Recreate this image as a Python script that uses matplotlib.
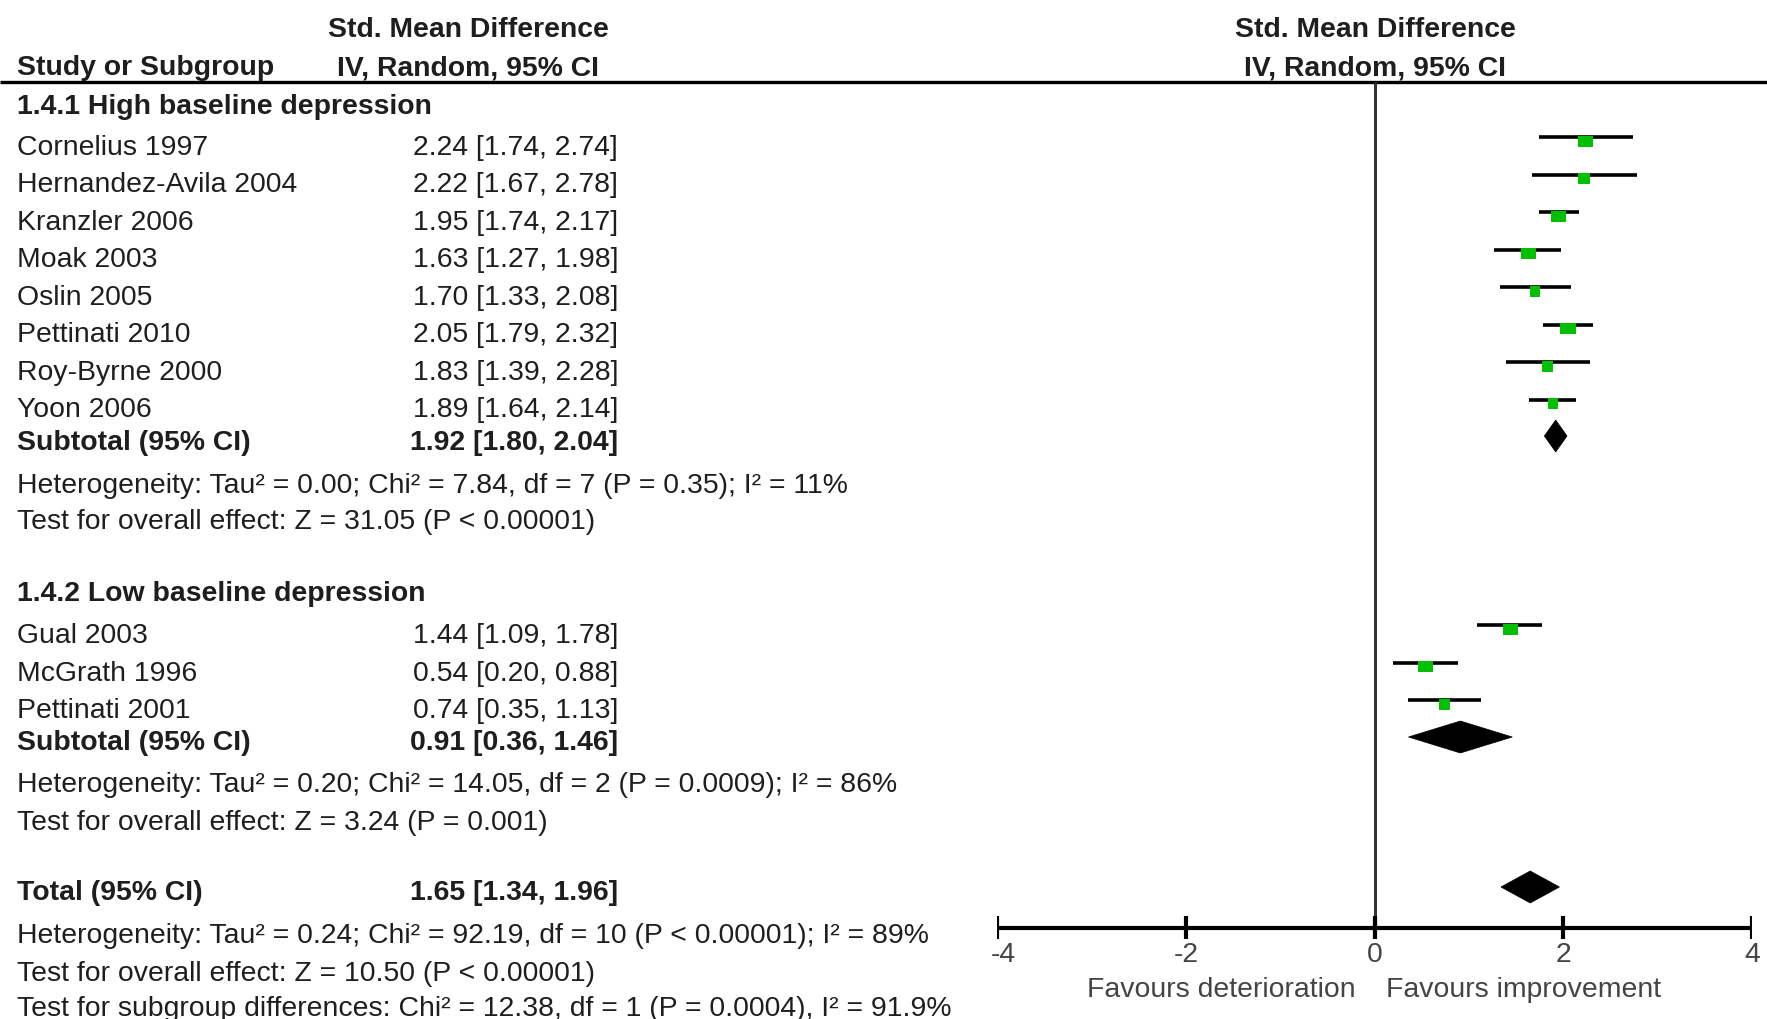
import matplotlib
matplotlib.use("Agg")
import matplotlib.pyplot as plt
from matplotlib.patches import Rectangle, Polygon

plt.rcParams["font.family"] = ["Liberation Sans", "DejaVu Sans"]

# data
g1_title = "1.4.1 High baseline depression"
g1_studies = ["Cornelius 1997", "Hernandez-Avila 2004", "Kranzler 2006", "Moak 2003",
              "Oslin 2005", "Pettinati 2010", "Roy-Byrne 2000", "Yoon 2006"]
g1_est = [2.24, 2.22, 1.95, 1.63, 1.70, 2.05, 1.83, 1.89]
g1_lo = [1.74, 1.67, 1.74, 1.27, 1.33, 1.79, 1.39, 1.64]
g1_hi = [2.74, 2.78, 2.17, 1.98, 2.08, 2.32, 2.28, 2.14]
g1_w = [10.4, 8.1, 10.4, 10.4, 7.4, 10.4, 7.4, 7.4]
g1_sub = [1.92, 1.80, 2.04]
g1_het = "Heterogeneity: Tau² = 0.00; Chi² = 7.84, df = 7 (P = 0.35); I² = 11%"
g1_test = "Test for overall effect: Z = 31.05 (P < 0.00001)"

g2_title = "1.4.2 Low baseline depression"
g2_studies = ["Gual 2003", "McGrath 1996", "Pettinati 2001"]
g2_est = [1.44, 0.54, 0.74]
g2_lo = [1.09, 0.20, 0.35]
g2_hi = [1.78, 0.88, 1.13]
g2_w = [10.4, 10.4, 7.4]
g2_sub = [0.91, 0.36, 1.46]
g2_het = "Heterogeneity: Tau² = 0.20; Chi² = 14.05, df = 2 (P = 0.0009); I² = 86%"
g2_test = "Test for overall effect: Z = 3.24 (P = 0.001)"

total = [1.65, 1.34, 1.96]
tot_het = "Heterogeneity: Tau² = 0.24; Chi² = 92.19, df = 10 (P < 0.00001); I² = 89%"
tot_test = "Test for overall effect: Z = 10.50 (P < 0.00001)"
sub_test = "Test for subgroup differences: Chi² = 12.38, df = 1 (P = 0.0004), I² = 91.9%"

ticks = [-4, -2, 0, 2, 4]
left_lab = "Favours deterioration"
right_lab = "Favours improvement"

# layout (pixel rows, cap centres)
W, H = 1767, 1020
fig = plt.figure(figsize=(W / 100, H / 100), dpi=100)
ax = fig.add_axes([0, 0, 1, 1])
ax.set_xlim(0, W)
ax.set_ylim(H, 0)
ax.axis("off")

x0, x1 = 997, 1752
fx = fig.add_axes([x0 / W, 0, (x1 - x0) / W, 1])
fx.set_xlim(-4, 4)
fx.set_ylim(H, 0)
fx.axis("off")
px = 8 / (x1 - x0)  # data units per pixel

FS = 20.4
TC = "#1e1e1e"
green = "#00c000"
CI_X = 618


def txt(x, yc, s, bold=False, ha="left", color=TC, a=ax):
    a.text(x, yc + 10, s, fontsize=FS, ha=ha, va="baseline", color=color,
           fontweight="bold" if bold else "normal")


def ci_str(e, l, h):
    return "%.2f [%.2f, %.2f]" % (e, l, h)


def diamond(yc, e, l, h):
    p = Polygon([(l, yc), (e, yc - 16), (h, yc), (e, yc + 16)], closed=True,
                facecolor="black", edgecolor="black", lw=0.5)
    fx.add_patch(p)


def study_rows(y_list, names, est, lo, hi, wts):
    for y, n, e, l, h, w in zip(y_list, names, est, lo, hi, wts):
        txt(17, y, n)
        txt(CI_X, y, ci_str(e, l, h), ha="right")
        yl = y - 7
        fx.hlines(yl, l, h, color="black", lw=2.6)
        wd = 1.45 * w * px
        fx.add_patch(Rectangle((e - wd / 2, yl - 1.5), wd, 11, facecolor=green,
                               edgecolor="none", zorder=3))


# headers
for cx in (468, 1375):
    txt(cx, 27, "Std. Mean Difference", bold=True, ha="center")
    txt(cx, 65, "IV, Random, 95% CI", bold=True, ha="center")
txt(17, 65, "Study or Subgroup", bold=True)
ax.hlines(83, 0, W, color="black", lw=2.4)

# group 1
txt(17, 104, g1_title, bold=True)
g1_y = [145 + 37.5 * i for i in range(len(g1_studies))]
study_rows(g1_y, g1_studies, g1_est, g1_lo, g1_hi, g1_w)
txt(17, 440, "Subtotal (95% CI)", bold=True)
txt(CI_X, 440, ci_str(*g1_sub), bold=True, ha="right")
diamond(437, *g1_sub)
txt(17, 483, g1_het)
txt(17, 519, g1_test)

# group 2
txt(17, 591, g2_title, bold=True)
g2_y = [633 + 37.7 * i for i in range(len(g2_studies))]
study_rows(g2_y, g2_studies, g2_est, g2_lo, g2_hi, g2_w)
txt(17, 740, "Subtotal (95% CI)", bold=True)
txt(CI_X, 740, ci_str(*g2_sub), bold=True, ha="right")
diamond(738, *g2_sub)
txt(17, 782, g2_het)
txt(17, 820, g2_test)

# total
txt(17, 890, "Total (95% CI)", bold=True)
txt(CI_X, 890, ci_str(*total), bold=True, ha="right")
diamond(888, *total)
txt(17, 933, tot_het)
txt(17, 971, tot_test)
txt(17, 1006, sub_test)

# zero line and axis
fx.vlines(0, 83, 929, color="#333333", lw=2.2)
fx.hlines(929, -4 - 9 * px, 4 + 3 * px, color="black", lw=3)
fx.vlines(ticks, 917, 940, color="black", lw=3)
for t in ticks:
    off = 6 * px if t == -4 else 0
    txt(t + off, 952, "%d" % t, ha="center", color="#444444", a=fx)
txt(-0.2, 987, left_lab, ha="right", color="#444444", a=fx)
txt(0.12, 987, right_lab, ha="left", color="#444444", a=fx)

fig.savefig("out.png", dpi=100)
